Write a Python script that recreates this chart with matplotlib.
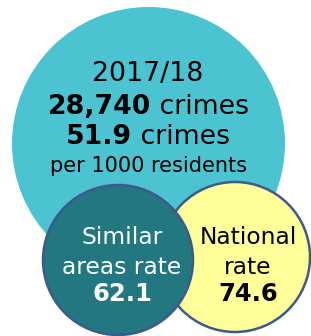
import matplotlib.pyplot as plt
from matplotlib.patches import Circle

period = "2017/18"
total_crimes = 28740
crime_rate = 51.9
compare_labels = [["Similar", "areas rate"], ["National", "rate"]]
compare_rates = [62.1, 74.6]

fig = plt.figure(figsize=(3.11, 3.36), dpi=100)
ax = fig.add_axes([0, 0, 1, 1])
ax.set_xlim(0, 311)
ax.set_ylim(336, 0)
ax.set_aspect('equal')
ax.axis('off')

# main bubble
ax.add_patch(Circle((148.5, 143.5), 136.5, facecolor='#4bc3d0', edgecolor='none', zorder=1))
# comparison bubbles (yellow behind teal)
ax.add_patch(Circle((235, 257), 75, facecolor='#ffff99', edgecolor='#3e5a8c', lw=1.8, zorder=2))
ax.add_patch(Circle((118, 260), 75, facecolor='#237780', edgecolor='#3e5a8c', lw=1.8, zorder=3))

fs = 19.3
renderer = fig.canvas.get_renderer()


def mixed_line(x, y, bold, rest, size, color='black'):
    # bold part followed by regular part, centred on x
    t1 = ax.text(0, y, bold, fontsize=size, fontweight='bold', color=color,
                 ha='left', va='center', zorder=5)
    t2 = ax.text(0, y, rest, fontsize=size, color=color,
                 ha='left', va='center', zorder=5)
    w1 = t1.get_window_extent(renderer).width
    w2 = t2.get_window_extent(renderer).width
    ppu = ax.transData.transform((1, 0))[0] - ax.transData.transform((0, 0))[0]
    w1, w2 = w1 / ppu, w2 / ppu
    left = x - (w1 + w2) / 2
    t1.set_x(left)
    t2.set_x(left + w1)


ax.text(148, 74, period, fontsize=fs, ha='center', va='center', zorder=5)
mixed_line(148, 107, f"{total_crimes:,}", " crimes", fs)
mixed_line(148, 137, f"{crime_rate}", " crimes", fs)
ax.text(148, 166, "per 1000 residents", fontsize=15, ha='center', va='center', zorder=5)

centers_x = [122, 248]
colors = ['white', 'black']
for cx, lab, val, c in zip(centers_x, compare_labels, compare_rates, colors):
    ax.text(cx, 237, lab[0], fontsize=16.8, color=c, ha='center', va='center', zorder=5)
    ax.text(cx, 267, lab[1], fontsize=16.8, color=c, ha='center', va='center', zorder=5)
    ax.text(cx, 294, f"{val}", fontsize=17.5, fontweight='bold', color=c,
            ha='center', va='center', zorder=5)

fig.savefig('out.png', dpi=100)
